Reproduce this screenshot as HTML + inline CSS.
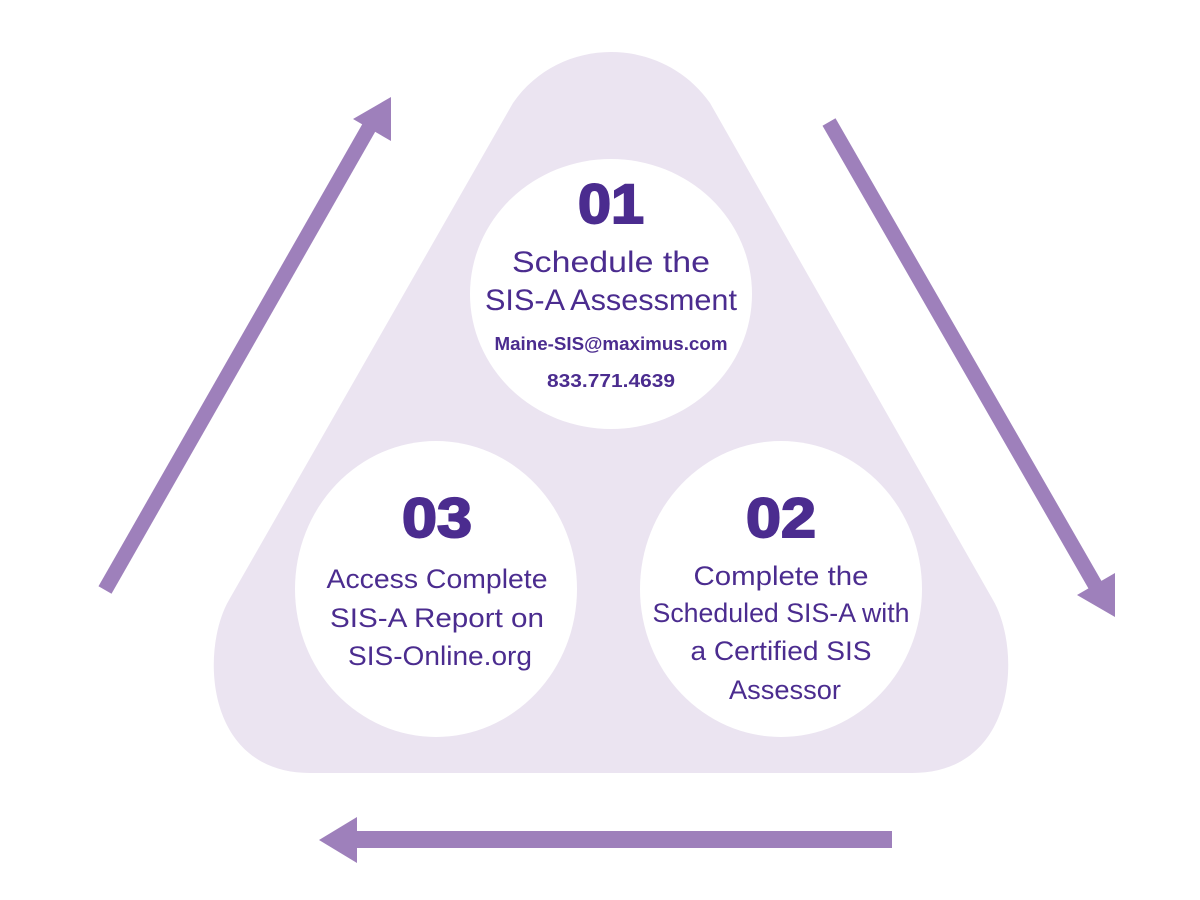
<!DOCTYPE html>
<html><head><meta charset="utf-8"><style>html,body{margin:0;padding:0;background:#fff}svg{display:block}</style></head>
<body>
<svg width="1200" height="900" viewBox="0 0 1200 900" xmlns="http://www.w3.org/2000/svg">
<rect width="1200" height="900" fill="#fff"/>
<path d="M513,103 C560,35 662,35 710,103 L993,600 C1022,650 1017,773 912,773 L310,773 C205,773 200,650 229,600 Z" fill="#ebe4f1"/>
<ellipse cx="611" cy="294" rx="141" ry="135" fill="#fff"/>
<ellipse cx="436" cy="589" rx="141" ry="148" fill="#fff"/>
<ellipse cx="781" cy="589" rx="141" ry="148" fill="#fff"/>
<g fill="#9e80bb" stroke="none">
<line x1="105" y1="590" x2="375" y2="117" stroke="#9e80bb" stroke-width="15"/>
<polygon points="353,119 391,97 391,141"/>
<line x1="829" y1="122" x2="1098" y2="590" stroke="#9e80bb" stroke-width="15"/>
<polygon points="1077,595 1115,573 1115,617"/>
<rect x="355" y="831" width="537" height="17"/>
<polygon points="319,840 357,817 357,863"/>
</g>
<g fill="#4b2c8f" font-family="Liberation Sans, sans-serif" text-anchor="middle">
<text x="611" y="223" font-size="56" font-weight="bold" stroke="#4b2c8f" stroke-width="2" textLength="66" lengthAdjust="spacingAndGlyphs">01</text>
<text x="611" y="272" font-size="30" textLength="198" lengthAdjust="spacingAndGlyphs">Schedule the</text>
<text x="611" y="310" font-size="30" textLength="252" lengthAdjust="spacingAndGlyphs">SIS-A Assessment</text>
<text x="611" y="350" font-size="18" font-weight="bold" textLength="233" lengthAdjust="spacingAndGlyphs">Maine-SIS@maximus.com</text>
<text x="611" y="387" font-size="18" font-weight="bold" textLength="128" lengthAdjust="spacingAndGlyphs">833.771.4639</text>
<text x="437" y="537" font-size="56" font-weight="bold" stroke="#4b2c8f" stroke-width="2" textLength="70" lengthAdjust="spacingAndGlyphs">03</text>
<text x="437" y="588" font-size="27" textLength="221" lengthAdjust="spacingAndGlyphs">Access Complete</text>
<text x="437" y="627" font-size="27" textLength="214" lengthAdjust="spacingAndGlyphs">SIS-A Report on</text>
<text x="440" y="665" font-size="27" textLength="184" lengthAdjust="spacingAndGlyphs">SIS-Online.org</text>
<text x="781" y="537" font-size="56" font-weight="bold" stroke="#4b2c8f" stroke-width="2" textLength="70" lengthAdjust="spacingAndGlyphs">02</text>
<text x="781" y="585" font-size="27" textLength="175" lengthAdjust="spacingAndGlyphs">Complete the</text>
<text x="781" y="622" font-size="27" textLength="257" lengthAdjust="spacingAndGlyphs">Scheduled SIS-A with</text>
<text x="781" y="660" font-size="27" textLength="181" lengthAdjust="spacingAndGlyphs">a Certified SIS</text>
<text x="785" y="699" font-size="27" textLength="112" lengthAdjust="spacingAndGlyphs">Assessor</text>
</g>
</svg>
</body></html>
